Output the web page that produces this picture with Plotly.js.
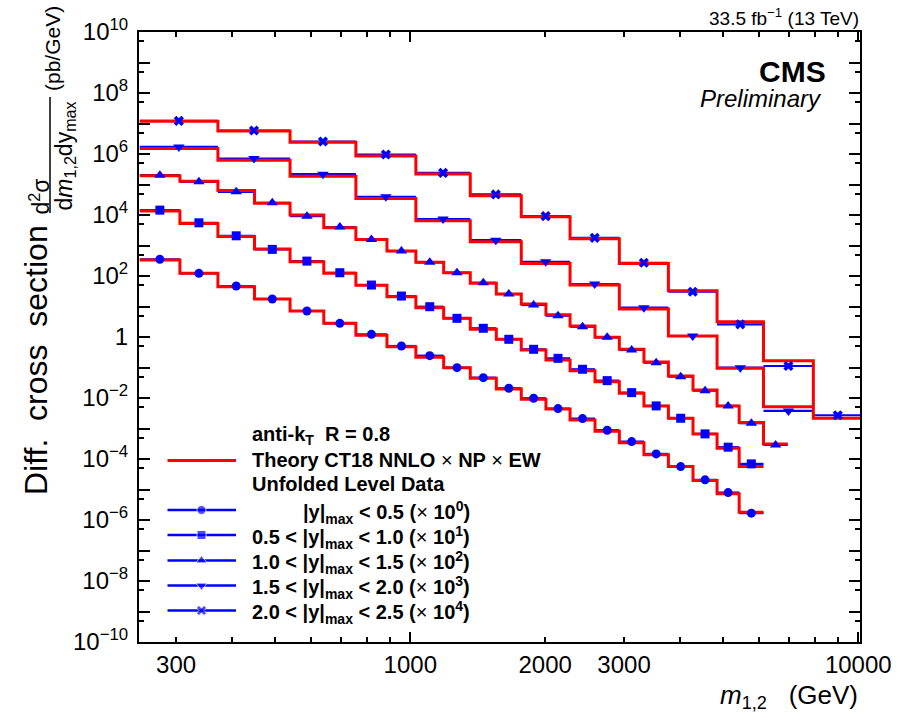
<!DOCTYPE html>
<html><head><meta charset="utf-8">
<script src="https://cdn.plot.ly/plotly-3.0.1.min.js"></script>
<style>html,body{margin:0;padding:0;background:#fff}</style>
</head><body>
<div id="chart" style="width:901px;height:719px"></div>
<script>
// ---------------- DATA ----------------
// m_{1,2} bin edges (GeV)
const edgesFine   = [249, 306, 372, 449, 539, 641, 756, 887, 1029, 1187, 1361, 1556, 1769, 2008, 2273, 2584, 2928, 3323, 3768, 4276, 4839, 5421, 6143, 6958];
const edgesCoarse = [249, 372, 539, 756, 1029, 1361, 1769, 2273, 2928, 3768, 4839, 6143, 7937, 10200];

const seriesLabels = ["|y|max < 0.5", "0.5 < |y|max < 1.0", "1.0 < |y|max < 1.5", "1.5 < |y|max < 2.0", "2.0 < |y|max < 2.5"];
const scaleFactors = [1, 10, 100, 1000, 10000];

// Unfolded data, pb/GeV (unscaled)
const data_y0 = [351, 122, 46.9, 17.6, 7.11, 2.81, 1.22, 0.507, 0.244, 0.0986, 0.0465, 0.0209, 0.00982, 0.00449, 0.00211, 0.000879, 0.000372, 0.000147, 5.65e-5, 2.07e-5, 7.94e-6, 1.68e-6];
const data_y1 = [1445, 555, 208, 74.6, 30.8, 12.8, 5.05, 2.20, 0.984, 0.410, 0.193, 0.0841, 0.0395, 0.0200, 0.00875, 0.00371, 0.00150, 0.000550, 0.000217, 6.65e-5, 2.44e-5, 6.92e-6];
const data_y2 = [2023, 1222, 574, 251, 91.8, 40.1, 15.8, 6.56, 2.80, 1.28, 0.601, 0.256, 0.112, 0.0499, 0.0217, 0.00977, 0.00375, 0.00144, 0.000501, 0.000174, 5.50e-5, 1.49e-5, 2.90e-6];
const data_y3 = [1710, 713, 218, 39.4, 7.33, 1.50, 0.292, 0.0545, 0.00912, 0.00108, 9.86e-5, 3.77e-6];
const data_y4 = [1216, 589, 257, 96.4, 24.1, 4.72, 0.918, 0.179, 0.0272, 0.00305, 0.000261, 1.12e-5, 2.72e-7];

// Theory CT18 NNLO x NP x EW, pb/GeV (unscaled)
const theory_y0 = [333, 122, 44.5, 17.6, 7.11, 2.81, 1.14, 0.481, 0.216, 0.0986, 0.0444, 0.0198, 0.0091, 0.00438, 0.00191, 0.000815, 0.000344, 0.000139, 5.65e-5, 1.96e-5, 7.19e-6, 1.81e-6];
const theory_y1 = [1340, 530, 199, 76.2, 29.2, 12.2, 4.93, 2.09, 0.912, 0.410, 0.179, 0.0841, 0.0375, 0.0177, 0.00787, 0.00344, 0.00143, 0.000550, 0.000217, 6.65e-5, 2.26e-5, 5.65e-6];
const theory_y2 = [1919, 1288, 638, 245, 99.1, 38.0, 15.8, 6.56, 2.80, 1.28, 0.574, 0.256, 0.120, 0.0537, 0.0229, 0.00977, 0.00395, 0.00152, 0.000528, 0.000184, 5.50e-5, 1.56e-5, 3.13e-6];
const theory_y3 = [1517, 628, 188, 34.9, 6.44, 1.32, 0.259, 0.0505, 0.00826, 0.00108, 9.44e-5, 5.21e-6];
const theory_y4 = [1189, 571, 244, 86.7, 22.3, 4.25, 0.871, 0.166, 0.0259, 0.00329, 0.000317, 1.67e-5, 2.17e-7];

// tick positions / labels
const xLabelVals = [300, 1000, 2000, 3000, 10000];
const xLabelText = ["300", "1000", "2000", "3000", "10000"];
const xMinorVals = [400, 500, 600, 700, 800, 900, 4000, 5000, 6000, 7000, 8000, 9000];
const xMajorVals = [1000, 10000];
const yLabelExps = [-10, -8, -6, -4, -2, 0, 2, 4, 6, 8, 10];
const yOddExps = [-9, -7, -5, -3, -1, 1, 3, 5, 7, 9];

// ---------------- STYLE / LAYOUT ----------------
const FONT = "'Liberation Sans', Arial, Helvetica, sans-serif";
const BLUE = "#0000ff", RED = "#ff0000";
const symbols = ["circle", "square", "triangle-up", "triangle-down", "x"];
const msizes = [9, 9, 10, 10, 9];
const L = 139, T = 32, W = 721, H = 610;
const PX = x => (x - L) / W;
const PY = y => (T + H - y) / H;

const dataSets = [data_y0, data_y1, data_y2, data_y3, data_y4];
const theorySets = [theory_y0, theory_y1, theory_y2, theory_y3, theory_y4];
const edgeSets = [edgesFine, edgesFine, edgesFine, edgesCoarse, edgesCoarse];

const barTraces = [], theoryTraces = [], markerTraces = [];
for (let i = 0; i < 5; i++) {
  const d = dataSets[i], t = theorySets[i], s = scaleFactors[i];
  const e = edgeSets[i].slice(0, d.length + 1);
  const c = d.map((_, k) => Math.sqrt(e[k] * e[k + 1]));
  const yd = d.map(v => v * s);
  const yt = t.map(v => v * s); yt.push(yt[yt.length - 1]);
  barTraces.push({
    type: "scatter", mode: "markers", x: c, y: yd, hoverinfo: "skip", showlegend: false,
    marker: { size: 1, opacity: 0, color: BLUE },
    error_x: { type: "data", symmetric: false, array: c.map((v, k) => e[k + 1] - v),
               arrayminus: c.map((v, k) => v - e[k]), color: BLUE, thickness: 2.2, width: 0 }
  });
  theoryTraces.push({
    type: "scatter", mode: "lines", x: e, y: yt, hoverinfo: "skip", showlegend: false,
    line: { color: RED, width: 3, shape: "hv" }
  });
  markerTraces.push({
    type: "scatter", mode: "markers", x: c, y: yd, name: seriesLabels[i], showlegend: false,
    marker: { symbol: symbols[i], size: msizes[i], color: BLUE, line: { width: 0 } }
  });
}

// legend key geometry (pixels)
const keyX0 = 167.5, keyX1 = 236, keyXm = 201.5;
const keyRows = [510, 535, 560.5, 585.5, 610.5];
const legendTraces = [{
  type: "scatter", mode: "lines", xaxis: "x3", yaxis: "y3", hoverinfo: "skip", showlegend: false,
  x: [PX(keyX0), PX(keyX1)], y: [PY(460.5), PY(460.5)], line: { color: RED, width: 3 }
}];
keyRows.forEach((r, i) => legendTraces.push({
  type: "scatter", mode: "lines+markers", xaxis: "x3", yaxis: "y3", hoverinfo: "skip", showlegend: false,
  x: [PX(keyX0), PX(keyXm), PX(keyX1)], y: [PY(r), PY(r), PY(r)],
  line: { color: BLUE, width: 2.5 },
  marker: { symbol: symbols[i], size: [0, msizes[i], 0], color: BLUE }
}));
const dummy = { type: "scatter", mode: "markers", x: [], y: [], xaxis: "x2", yaxis: "y2", showlegend: false, hoverinfo: "skip" };

const yLabelVals = yLabelExps.map(p => Math.pow(10, p));
const yLabelText = yLabelExps.map(p => p === 0 ? "1" : "10<sup>" + (p < 0 ? "\u2212" : "") + Math.abs(p) + "</sup>");
const yOddVals = yOddExps.map(p => Math.pow(10, p));
const yHalfVals = [];
for (let p = -9; p <= 10; p++) yHalfVals.push(5 * Math.pow(10, p - 1));

const xRange = [2.3944, 4.0038];
const yRange = [-10, 10];
const axisCommon = { showgrid: false, zeroline: false, showline: true, linecolor: "#000", linewidth: 2,
  ticks: "inside", tickcolor: "#000", tickwidth: 2, mirror: "allticks" };

function ann(text, x, y, size, opts) {
  return Object.assign({ text: text, xref: "paper", yref: "paper", x: PX(x), y: PY(y), showarrow: false,
    xanchor: "left", yanchor: "middle", font: { family: FONT, size: size, color: "#000" } }, opts || {});
}

const legendTexts = [
  "<b>0.5 &lt; |y|<sub>max</sub> &lt; 1.0 (</b>×<b> 10<sup>1</sup>)</b>",
  "<b>1.0 &lt; |y|<sub>max</sub> &lt; 1.5 (</b>×<b> 10<sup>2</sup>)</b>",
  "<b>1.5 &lt; |y|<sub>max</sub> &lt; 2.0 (</b>×<b> 10<sup>3</sup>)</b>",
  "<b>2.0 &lt; |y|<sub>max</sub> &lt; 2.5 (</b>×<b> 10<sup>4</sup>)</b>"
];

const annotations = [
  ann("Diff.&nbsp; cross&nbsp; section", 36, 360, 32, { textangle: -90, xanchor: "center" }),
  ann("d<sup>2</sup>σ", 39, 196.5, 23, { textangle: -90, xanchor: "center" }),
  ann("d<i>m</i><sub>1,2</sub>dy<sub>max</sub>", 65, 156.5, 23, { textangle: -90, xanchor: "center" }),
  ann("(pb/GeV)", 52.5, 48.5, 21, { textangle: -90, xanchor: "center" }),
  ann("<i>m</i><sub>1,2</sub>&nbsp;&nbsp; (GeV)", 860, 696, 26, { xanchor: "right" }),
  ann("33.5 fb<sup>\u22121</sup> (13 TeV)", 860.5, 17, 19, { xanchor: "right" }),
  ann("<b>CMS</b>", 828, 71.5, 30, { xanchor: "right" }),
  ann("<i>Preliminary</i>", 824, 99, 24, { xanchor: "right" }),
  ann("<b>anti-k<sub>T</sub>  R = 0.8</b>", 250, 435, 20),
  ann("<b>Theory CT18 NNLO </b>×<b> NP </b>×<b> EW</b>", 250, 460.5, 20),
  ann("<b>Unfolded Level Data</b>", 250, 483.5, 20),
  ann("<b>|y|<sub>max</sub> &lt; 0.5 (</b>×<b> 10<sup>0</sup>)</b>", 301, keyRows[0] + 2, 20)
].concat(legendTexts.map((t, i) => ann(t, 250, keyRows[i + 1] + 2, 20)));

const layout = {
  width: 901, height: 719, paper_bgcolor: "#fff", plot_bgcolor: "#fff",
  margin: { l: L, r: 901 - L - W, t: T, b: 719 - T - H, pad: 0 },
  showlegend: false,
  font: { family: FONT, color: "#000" },
  xaxis: Object.assign({}, axisCommon, { type: "log", range: xRange, tickmode: "array", tickvals: xLabelVals,
    ticktext: xLabelText, ticklen: 5, tickfont: { size: 24, family: FONT },
    minor: { tickmode: "array", tickvals: xMinorVals, ticks: "inside", ticklen: 5, tickwidth: 2, tickcolor: "#000", showgrid: false } }),
  xaxis2: Object.assign({}, axisCommon, { type: "log", range: xRange, overlaying: "x", anchor: "y2",
    tickmode: "array", tickvals: xMajorVals, ticklen: 10, showticklabels: false }),
  xaxis3: { overlaying: "x", anchor: "y3", range: [0, 1], visible: false },
  yaxis: Object.assign({}, axisCommon, { type: "log", range: yRange, tickmode: "array", tickvals: yLabelVals,
    ticktext: yLabelText, ticklen: 11, tickfont: { size: 24, family: FONT }, ticklabelstandoff: 4,
    minor: { tickmode: "array", tickvals: yOddVals, ticks: "inside", ticklen: 11, tickwidth: 2, tickcolor: "#000", showgrid: false } }),
  yaxis2: Object.assign({}, axisCommon, { type: "log", range: yRange, overlaying: "y", anchor: "x2",
    tickmode: "array", tickvals: yHalfVals, ticklen: 5, showticklabels: false }),
  yaxis3: { overlaying: "y", anchor: "x3", range: [0, 1], visible: false },
  annotations: annotations,
  shapes: [{ type: "line", xref: "paper", yref: "paper", x0: PX(50), x1: PX(50), y0: PY(97), y1: PY(213),
             line: { color: "#000", width: 1.5 } }]
};

Plotly.newPlot("chart", [dummy].concat(barTraces, theoryTraces, markerTraces, legendTraces), layout,
  { displayModeBar: false, staticPlot: true });
</script>
</body></html>
